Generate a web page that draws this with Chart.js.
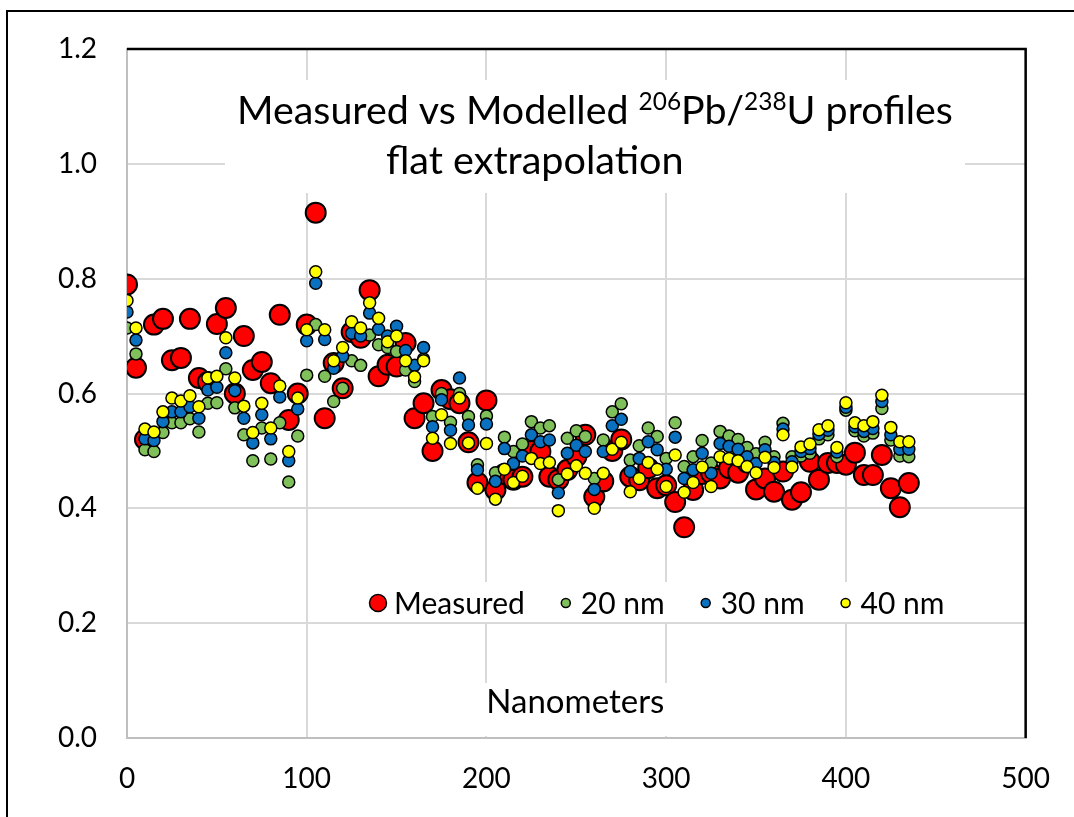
<!DOCTYPE html>
<html>
<head>
<meta charset="utf-8">
<script src="https://cdn.jsdelivr.net/npm/chart.js@4.4.1/dist/chart.umd.min.js"></script>
<style>
    body { margin: 0; background: #fff; overflow: hidden; }
    #frame { position: absolute; left: 6px; top: 10px; width: 1100px; height: 900px; border: 2px solid #000; }
    #chart { position: absolute; left: 0; top: 0; }
</style>
</head>
<body>
<div id="frame"></div>
<canvas id="chart" width="1074" height="817"></canvas>
<script>
// depth in nanometers, one row per 5 nm
const nm = [0, 5, 10, 15, 20, 25, 30, 35, 40, 45, 50, 55, 60, 65, 70, 75, 80, 85, 90, 95,
    100, 105, 110, 115, 120, 125, 130, 135, 140, 145, 150, 155, 160, 165, 170, 175, 180, 185, 190, 195,
    200, 205, 210, 215, 220, 225, 230, 235, 240, 245, 250, 255, 260, 265, 270, 275, 280, 285, 290, 295,
    300, 305, 310, 315, 320, 325, 330, 335, 340, 345, 350, 355, 360, 365, 370, 375, 380, 385, 390, 395,
    400, 405, 410, 415, 420, 425, 430, 435];

const measured = [0.79, 0.645, 0.52, 0.72, 0.73, 0.658, 0.662, 0.73, 0.627, 0.62, 0.721, 0.749, 0.60, 0.70, 0.641, 0.655, 0.618, 0.737, 0.554, 0.60,
    0.72, 0.915, 0.557, 0.653, 0.609, 0.707, 0.697, 0.78, 0.63, 0.65, 0.647, 0.688, 0.557, 0.583, 0.50, 0.606, 0.59, 0.583, 0.515, 0.445,
    0.588, 0.432, 0.46, 0.45, 0.455, 0.50, 0.499, 0.455, 0.45, 0.467, 0.49, 0.528, 0.42, 0.447, 0.50, 0.52, 0.455, 0.449, 0.47, 0.435,
    0.44, 0.411, 0.367, 0.432, 0.46, 0.461, 0.452, 0.47, 0.462, 0.48, 0.433, 0.452, 0.429, 0.464, 0.415, 0.428, 0.481, 0.45, 0.479, 0.479,
    0.476, 0.497, 0.458, 0.458, 0.493, 0.435, 0.402, 0.444];

const model20 = [0.714, 0.669, 0.502, 0.499, 0.532, 0.549, 0.549, 0.556, 0.533, 0.583, 0.584, 0.643, 0.575, 0.528, 0.483, 0.54, 0.486, 0.549, 0.446, 0.526,
    0.632, 0.72, 0.63, 0.586, 0.609, 0.657, 0.649, 0.702, 0.685, 0.68, 0.673, 0.641, 0.621, 0.66, 0.56, 0.60, 0.55, 0.60, 0.56, 0.476,
    0.561, 0.462, 0.524, 0.499, 0.512, 0.551, 0.54, 0.544, 0.45, 0.522, 0.535, 0.525, 0.452, 0.519, 0.568, 0.582, 0.484, 0.509, 0.54, 0.525,
    0.487, 0.549, 0.473, 0.49, 0.518, 0.479, 0.534, 0.526, 0.52, 0.506, 0.495, 0.515, 0.49, 0.548, 0.49, 0.491, 0.496, 0.521, 0.528, 0.49,
    0.571, 0.535, 0.526, 0.531, 0.574, 0.519, 0.491, 0.49];

const model30 = [0.742, 0.693, 0.521, 0.518, 0.551, 0.568, 0.568, 0.577, 0.557, 0.606, 0.611, 0.671, 0.605, 0.557, 0.514, 0.563, 0.521, 0.594, 0.483, 0.573,
    0.692, 0.792, 0.694, 0.644, 0.665, 0.705, 0.70, 0.74, 0.712, 0.70, 0.717, 0.675, 0.649, 0.68, 0.542, 0.589, 0.536, 0.627, 0.545, 0.467,
    0.547, 0.447, 0.504, 0.478, 0.491, 0.528, 0.516, 0.519, 0.427, 0.496, 0.51, 0.499, 0.433, 0.499, 0.544, 0.555, 0.464, 0.487, 0.516, 0.502,
    0.468, 0.524, 0.452, 0.467, 0.496, 0.461, 0.513, 0.508, 0.503, 0.49, 0.478, 0.502, 0.48, 0.538, 0.481, 0.499, 0.504, 0.529, 0.536, 0.498,
    0.576, 0.542, 0.534, 0.539, 0.586, 0.528, 0.503, 0.503];

const model40 = [0.762, 0.714, 0.538, 0.533, 0.568, 0.592, 0.587, 0.596, 0.577, 0.627, 0.63, 0.697, 0.627, 0.578, 0.532, 0.583, 0.54, 0.613, 0.499, 0.592,
    0.711, 0.812, 0.711, 0.657, 0.68, 0.725, 0.714, 0.758, 0.731, 0.69, 0.70, 0.657, 0.629, 0.657, 0.522, 0.563, 0.513, 0.592, 0.514, 0.435,
    0.513, 0.416, 0.468, 0.445, 0.456, 0.487, 0.478, 0.48, 0.396, 0.46, 0.474, 0.461, 0.40, 0.461, 0.503, 0.515, 0.429, 0.452, 0.48, 0.468,
    0.438, 0.493, 0.428, 0.445, 0.472, 0.438, 0.49, 0.487, 0.483, 0.473, 0.462, 0.489, 0.471, 0.528, 0.472, 0.507, 0.512, 0.537, 0.544, 0.506,
    0.584, 0.549, 0.544, 0.551, 0.597, 0.541, 0.516, 0.516];

const xTicks = [0, 100, 200, 300, 400, 500];
const yTicks = [0, 0.2, 0.4, 0.6, 0.8, 1.0, 1.2];

const FONT = 'Lato, "Open Sans", sans-serif';

function toPoints(ys) {
    return nm.map((x, i) => ({ x: x, y: ys[i] }));
}

// order: higher number is painted first, so the 40 nm dots end up on top
function series(label, ys, color, radius, border, order) {
    return {
        label: label,
        data: toPoints(ys),
        backgroundColor: color,
        borderColor: '#000',
        borderWidth: border,
        pointRadius: radius,
        pointHoverRadius: radius,
        showLine: false,
        order: order
    };
}

// text boxes that sit inside the plot area (title, legend, axis name)
const overlay = {
    id: 'overlay',
    afterDatasetsDraw(chart) {
        const ctx = chart.ctx;
        const a = chart.chartArea;
        ctx.save();

        // black frame on top and right side of the plot
        ctx.strokeStyle = '#000';
        ctx.lineWidth = 2.5;
        ctx.beginPath();
        ctx.moveTo(a.left, a.top);
        ctx.lineTo(a.right, a.top);
        ctx.lineTo(a.right, a.bottom);
        ctx.stroke();

        // title
        ctx.fillStyle = '#fff';
        ctx.fillRect(a.left + 98, a.top + 31, 740, 113);
        ctx.fillStyle = '#000';
        ctx.textBaseline = 'alphabetic';
        drawRich(ctx, [
            { t: 'Measured vs Modelled ' }, { t: '206', sup: true }, { t: 'Pb/' },
            { t: '238', sup: true }, { t: 'U profiles' }
        ], a.left + 110, a.top + 75, 39.4);
        drawRich(ctx, [{ t: 'flat extrapolation' }], a.left + 259, a.top + 125, 39.6);

        // legend, one entry per dataset
        ctx.font = '30px ' + FONT;
        ctx.fillStyle = '#fff';
        ctx.fillRect(a.left + 233, a.bottom - 156, 596, 40);
        let lx = a.left + 251;
        const ly = a.bottom - 135;
        ctx.textBaseline = 'middle';
        chart.data.datasets.forEach((ds, i) => {
            const r = i === 0 ? 8.5 : 4.5;
            ctx.beginPath();
            ctx.arc(lx, ly, r, 0, Math.PI * 2);
            ctx.fillStyle = ds.backgroundColor;
            ctx.fill();
            ctx.lineWidth = 1.5;
            ctx.strokeStyle = '#000';
            ctx.stroke();
            ctx.fillStyle = '#000';
            const tx = lx + (i === 0 ? 16 : 15);
            ctx.fillText(ds.label, tx, ly + 1);
            lx = tx + ctx.measureText(ds.label).width + 41;
        });

        // axis name
        ctx.font = '33px ' + FONT;
        const label = 'Nanometers';
        const w = ctx.measureText(label).width;
        const cx = chart.scales.x.getPixelForValue(250) - 1;
        ctx.fillStyle = '#fff';
        ctx.fillRect(cx - w / 2 - 6, a.bottom - 55, w + 12, 53);
        ctx.fillStyle = '#000';
        ctx.textAlign = 'center';
        ctx.textBaseline = 'alphabetic';
        ctx.fillText(label, cx, a.bottom - 25);
        ctx.restore();
    }
};

function drawRich(ctx, parts, x, y, size) {
    parts.forEach(p => {
        const s = p.sup ? size * 0.62 : size;
        ctx.font = s + 'px ' + FONT;
        ctx.fillText(p.t, x, p.sup ? y - size * 0.36 : y);
        x += ctx.measureText(p.t).width;
    });
}

const tickFont = { family: FONT, size: 28 };

new Chart(document.getElementById('chart'), {
    type: 'scatter',
    data: {
        datasets: [
            series('Measured', measured, '#ff0000', 10, 2, 4),
            series('20 nm', model20, '#80c05a', 6, 1.5, 3),
            series('30 nm', model30, '#0a70c0', 6, 1.5, 2),
            series('40 nm', model40, '#ffff00', 6, 1.5, 1)
        ]
    },
    options: {
        responsive: false,
        animation: false,
        devicePixelRatio: 1,
        layout: { padding: { top: 49, right: 40, left: 0, bottom: 0 } },
        plugins: {
            legend: { display: false },
            tooltip: { enabled: false }
        },
        scales: {
            x: {
                type: 'linear',
                min: xTicks[0],
                max: xTicks[xTicks.length - 1],
                afterBuildTicks: s => { s.ticks = xTicks.map(v => ({ value: v })); },
                ticks: { font: tickFont, color: '#000', padding: 24 },
                grid: { color: '#d9d9d9', lineWidth: 2, drawTicks: false },
                border: { color: '#bfbfbf', width: 2 },
                afterFit: s => { s.height = 79; }
            },
            y: {
                min: yTicks[0],
                max: yTicks[yTicks.length - 1],
                afterBuildTicks: s => { s.ticks = yTicks.map(v => ({ value: v })); },
                ticks: { font: tickFont, color: '#000', padding: 30, callback: v => v.toFixed(1) },
                grid: { color: '#d9d9d9', lineWidth: 2, drawTicks: false },
                border: { color: '#bfbfbf', width: 2 },
                afterFit: s => { s.width = 127; }
            }
        }
    },
    plugins: [overlay]
});
</script>
</body>
</html>
